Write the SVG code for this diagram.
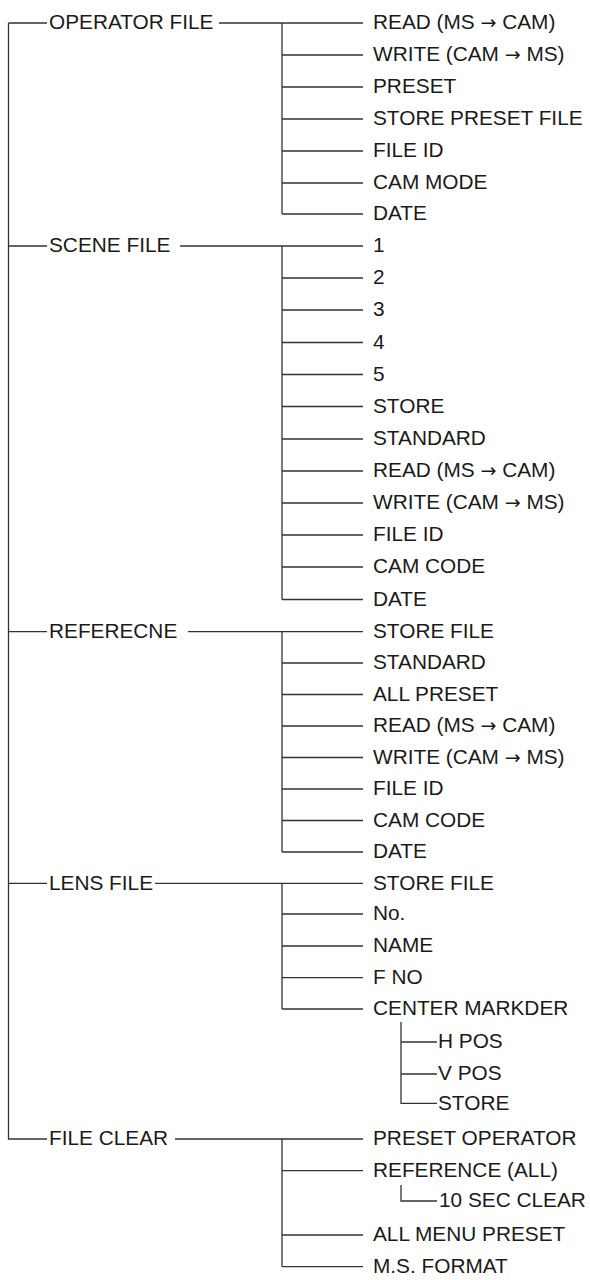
<svg xmlns="http://www.w3.org/2000/svg" width="590" height="1280" viewBox="0 0 590 1280">
<style>
text{font-family:"Liberation Sans",Arial,Helvetica,sans-serif;font-size:20.8px;fill:#1a1a1a}
.ar{font-family:"DejaVu Sans",sans-serif;font-size:19px}
.c path{fill:none;stroke:#333;stroke-width:1.3}
</style>
<rect width="590" height="1280" fill="#fff"/>
<g class="c" id="connectors">
<path d="M8.5 23V1139H47"/>
<path d="M8.5 23H47M219 23H282M282 23V214M282 55H363M282 87H363M282 119H363M282 151H363M282 183H363M282 214H363M282 23H363"/>
<path d="M8.5 246H47M180 246H282V599.5M282 246H363M282 278H363M282 310H363M282 342.5H363M282 374.5H363M282 406.5H363M282 439H363M282 471H363M282 503H363M282 535H363M282 567H363M282 599.5H363"/>
<path d="M8.5 631.7H47M188 631.7H282V852M282 631.7H363M282 663H363M282 694.5H363M282 726H363M282 757.5H363M282 789H363M282 820.5H363M282 852H363"/>
<path d="M8.5 883.3H47M155 883.3H282V1009M282 883.3H363M282 914H363M282 946H363M282 977.7H363M282 1009H363"/>
<path d="M401 1022V1103.3H437M401 1042H437M401 1074H437"/>
<path d="M175 1139H282V1266.7M282 1139H363M282 1170.7H363M282 1235H363M282 1266.7H363"/>
<path d="M401 1185V1201H437"/>
</g>
<g id="n-operator"><text x="49" y="29.3">OPERATOR FILE</text></g>
<g id="n-op-read"><text x="373" y="29.3">READ (MS <tspan class="ar">→</tspan> CAM)</text></g>
<g id="n-op-write"><text x="373" y="61.3">WRITE (CAM <tspan class="ar">→</tspan> MS)</text></g>
<g id="n-op-preset"><text x="373" y="93.3">PRESET</text></g>
<g id="n-op-store"><text x="373" y="125.3">STORE PRESET FILE</text></g>
<g id="n-op-fileid"><text x="373" y="157.3">FILE ID</text></g>
<g id="n-op-cammode"><text x="373" y="189.3">CAM MODE</text></g>
<g id="n-op-date"><text x="373" y="220.3">DATE</text></g>
<g id="n-scene"><text x="49" y="252.3">SCENE FILE</text></g>
<g id="n-sc-1"><text x="373" y="252.3">1</text></g>
<g id="n-sc-2"><text x="373" y="284.3">2</text></g>
<g id="n-sc-3"><text x="373" y="316.3">3</text></g>
<g id="n-sc-4"><text x="373" y="348.8">4</text></g>
<g id="n-sc-5"><text x="373" y="380.8">5</text></g>
<g id="n-sc-store"><text x="373" y="412.8">STORE</text></g>
<g id="n-sc-standard"><text x="373" y="445.3">STANDARD</text></g>
<g id="n-sc-read"><text x="373" y="477.3">READ (MS <tspan class="ar">→</tspan> CAM)</text></g>
<g id="n-sc-write"><text x="373" y="509.3">WRITE (CAM <tspan class="ar">→</tspan> MS)</text></g>
<g id="n-sc-fileid"><text x="373" y="541.3">FILE ID</text></g>
<g id="n-sc-camcode"><text x="373" y="573.3">CAM CODE</text></g>
<g id="n-sc-date"><text x="373" y="605.8">DATE</text></g>
<g id="n-ref"><text x="49" y="638">REFERECNE</text></g>
<g id="n-rf-store"><text x="373" y="638">STORE FILE</text></g>
<g id="n-rf-standard"><text x="373" y="669.3">STANDARD</text></g>
<g id="n-rf-allpreset"><text x="373" y="700.8">ALL PRESET</text></g>
<g id="n-rf-read"><text x="373" y="732.3">READ (MS <tspan class="ar">→</tspan> CAM)</text></g>
<g id="n-rf-write"><text x="373" y="763.8">WRITE (CAM <tspan class="ar">→</tspan> MS)</text></g>
<g id="n-rf-fileid"><text x="373" y="795.3">FILE ID</text></g>
<g id="n-rf-camcode"><text x="373" y="826.8">CAM CODE</text></g>
<g id="n-rf-date"><text x="373" y="858.3">DATE</text></g>
<g id="n-lens"><text x="49" y="889.6">LENS FILE</text></g>
<g id="n-ln-store"><text x="373" y="889.6">STORE FILE</text></g>
<g id="n-ln-no"><text x="373" y="920.3">No.</text></g>
<g id="n-ln-name"><text x="373" y="952.3">NAME</text></g>
<g id="n-ln-fno"><text x="373" y="984">F NO</text></g>
<g id="n-ln-center"><text x="373" y="1015.3">CENTER MARKDER</text></g>
<g id="n-cm-hpos"><text x="438" y="1048.3">H POS</text></g>
<g id="n-cm-vpos"><text x="438" y="1080.3">V POS</text></g>
<g id="n-cm-store"><text x="438" y="1109.6">STORE</text></g>
<g id="n-clear"><text x="49" y="1145.3">FILE CLEAR</text></g>
<g id="n-cl-preset"><text x="373" y="1145.3">PRESET OPERATOR</text></g>
<g id="n-cl-ref"><text x="373" y="1177">REFERENCE (ALL)</text></g>
<g id="n-cl-10sec"><text x="439" y="1207.3">10 SEC CLEAR</text></g>
<g id="n-cl-allmenu"><text x="373" y="1241.3">ALL MENU PRESET</text></g>
<g id="n-cl-msformat"><text x="373" y="1273">M.S. FORMAT</text></g>
</svg>
